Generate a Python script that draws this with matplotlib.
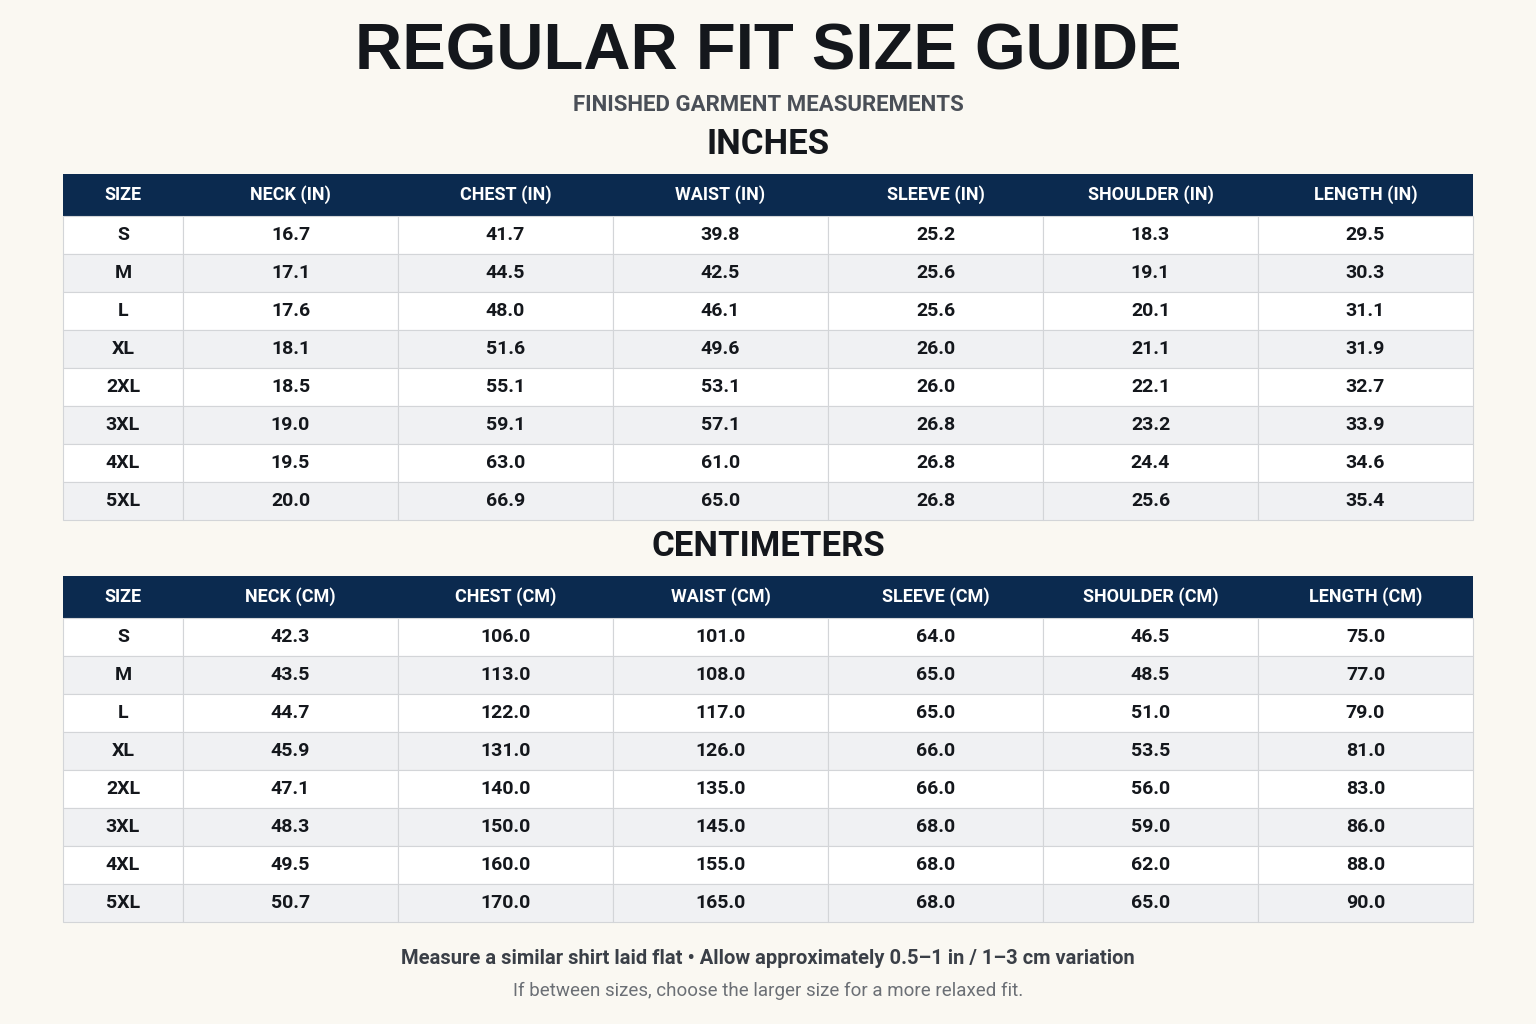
import matplotlib.pyplot as plt
from matplotlib.patches import Rectangle

sizes = ['S', 'M', 'L', 'XL', '2XL', '3XL', '4XL', '5XL']
headers_in = ['SIZE', 'NECK (IN)', 'CHEST (IN)', 'WAIST (IN)', 'SLEEVE (IN)', 'SHOULDER (IN)', 'LENGTH (IN)']
headers_cm = ['SIZE', 'NECK (CM)', 'CHEST (CM)', 'WAIST (CM)', 'SLEEVE (CM)', 'SHOULDER (CM)', 'LENGTH (CM)']

neck_in = [16.7, 17.1, 17.6, 18.1, 18.5, 19.0, 19.5, 20.0]
chest_in = [41.7, 44.5, 48.0, 51.6, 55.1, 59.1, 63.0, 66.9]
waist_in = [39.8, 42.5, 46.1, 49.6, 53.1, 57.1, 61.0, 65.0]
sleeve_in = [25.2, 25.6, 25.6, 26.0, 26.0, 26.8, 26.8, 26.8]
shoulder_in = [18.3, 19.1, 20.1, 21.1, 22.1, 23.2, 24.4, 25.6]
length_in = [29.5, 30.3, 31.1, 31.9, 32.7, 33.9, 34.6, 35.4]

neck_cm = [42.3, 43.5, 44.7, 45.9, 47.1, 48.3, 49.5, 50.7]
chest_cm = [106.0, 113.0, 122.0, 131.0, 140.0, 150.0, 160.0, 170.0]
waist_cm = [101.0, 108.0, 117.0, 126.0, 135.0, 145.0, 155.0, 165.0]
sleeve_cm = [64.0, 65.0, 65.0, 66.0, 66.0, 68.0, 68.0, 68.0]
shoulder_cm = [46.5, 48.5, 51.0, 53.5, 56.0, 59.0, 62.0, 65.0]
length_cm = [75.0, 77.0, 79.0, 81.0, 83.0, 86.0, 88.0, 90.0]

BG = '#faf8f2'
NAVY = '#0b2a4f'
ALT = '#f0f1f3'
GRID = '#d3d5d8'
TXT = '#14171c'
FONT = ['Roboto', 'DejaVu Sans']

col_edges = [63, 183, 398, 613, 828, 1043, 1258, 1473]
HEAD_H = 42
ROW_H = 38

fig = plt.figure(figsize=(15.36, 10.24), dpi=100, facecolor=BG)
ax = fig.add_axes([0, 0, 1, 1])
ax.set_xlim(0, 1536)
ax.set_ylim(1024, 0)
ax.axis('off')


def draw_table(top, headers, cols):
    for j, h in enumerate(headers):
        x0, x1 = col_edges[j], col_edges[j + 1]
        ax.add_patch(Rectangle((x0, top), x1 - x0, HEAD_H, facecolor=NAVY, edgecolor='none'))
        ax.text((x0 + x1) / 2, top + HEAD_H / 2, h, color='white', fontsize=13,
                fontweight='bold', ha='center', va='center', family=FONT)
    for i, s in enumerate(sizes):
        y0 = top + HEAD_H + i * ROW_H
        vals = [s] + ['%.1f' % c[i] for c in cols]
        for j, v in enumerate(vals):
            x0, x1 = col_edges[j], col_edges[j + 1]
            ax.add_patch(Rectangle((x0, y0), x1 - x0, ROW_H,
                                   facecolor=ALT if i % 2 else 'white',
                                   edgecolor=GRID, linewidth=0.8))
            ax.text((x0 + x1) / 2, y0 + ROW_H / 2, v, color=TXT, fontsize=14,
                    fontweight='bold', ha='center', va='center', family=FONT)


ax.text(768, 52, 'REGULAR FIT SIZE GUIDE', fontsize=47, fontweight='bold', color=TXT,
        ha='center', va='center', family=['Liberation Sans', 'DejaVu Sans'])
ax.text(768, 105, 'FINISHED GARMENT MEASUREMENTS', fontsize=16, fontweight='bold',
        color='#4a4f57', ha='center', va='center', family=FONT)
ax.text(768, 145, 'INCHES', fontsize=25, fontweight='bold', color=TXT,
        ha='center', va='center', family=FONT)
draw_table(174, headers_in, [neck_in, chest_in, waist_in, sleeve_in, shoulder_in, length_in])

ax.text(768, 547, 'CENTIMETERS', fontsize=25, fontweight='bold', color=TXT,
        ha='center', va='center', family=FONT)
draw_table(576, headers_cm, [neck_cm, chest_cm, waist_cm, sleeve_cm, shoulder_cm, length_cm])

ax.text(768, 959, 'Measure a similar shirt laid flat \u2022 Allow approximately 0.5\u20131 in / 1\u20133 cm variation',
        fontsize=14.5, fontweight='bold', color='#3a3f47', ha='center', va='center', family=FONT)
ax.text(768, 991, 'If between sizes, choose the larger size for a more relaxed fit.',
        fontsize=13.5, color='#6b6f75', ha='center', va='center', family=FONT)

fig.savefig('out.png', dpi=100, facecolor=BG)
